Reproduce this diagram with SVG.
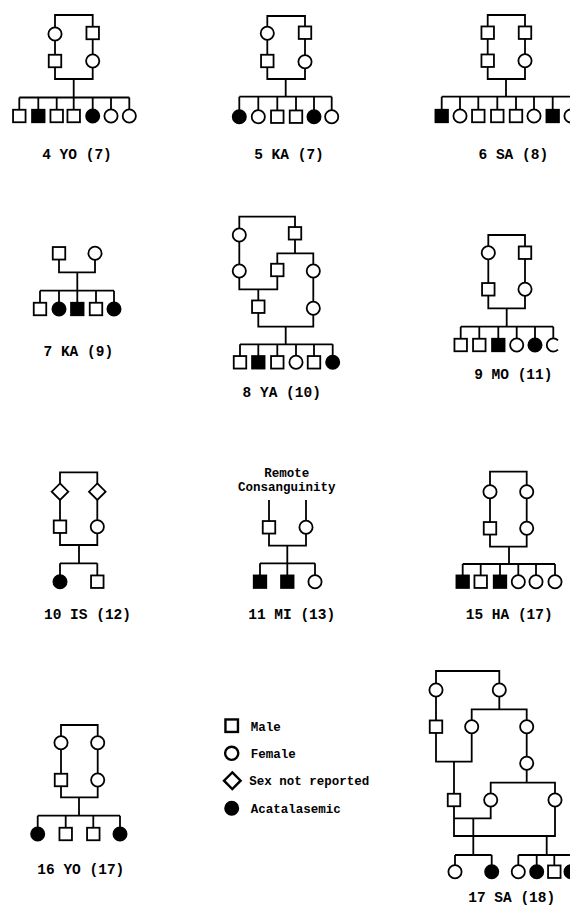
<svg xmlns="http://www.w3.org/2000/svg" xmlns:xlink="http://www.w3.org/1999/xlink" width="570" height="910" viewBox="0 0 570 910">
<style>
.l{fill:none;stroke:#000;stroke-width:1.8}
.o{fill:#fff;stroke:#000;stroke-width:1.8}
.k{fill:#000;stroke:#000;stroke-width:1.8}
.lg{stroke-width:2.4}
.t{font-family:"Liberation Mono","DejaVu Sans Mono",monospace;font-weight:bold;font-size:14.5px;text-anchor:middle;fill:#000}
.s{font-family:"Liberation Mono","DejaVu Sans Mono",monospace;font-weight:bold;font-size:12.5px;fill:#000}
</style>
<defs>
<rect id="S" x="-6.25" y="-6.25" width="12.5" height="12.5"/>
<circle id="C" r="6.6"/>
<path id="D" d="M0,-8.3 L8.3,0 L0,8.3 L-8.3,0Z"/>
</defs>
<rect width="570" height="910" fill="#fff"/>
<g id="connectors" class="l">
<!-- 4 YO -->
<path d="M55,15 H92.7 V79 H55 Z M73.7,79 V97.5 M19.3,97.5 H129.3 M19.3,97.5 V116 M38.3,97.5 V116 M56.7,97.5 V116 M73.7,97.5 V116 M92.7,97.5 V116 M111,97.5 V116 M129.3,97.5 V116"/>
<!-- 5 KA -->
<path d="M267.3,16 H305 V79 H267.3 Z M285.7,79 V96.7 M239.3,96.7 H331.7 M239.3,96.7 V116.7 M258.3,96.7 V116.7 M277.3,96.7 V116.7 M296,96.7 V116.7 M314,96.7 V116.7 M331.7,96.7 V116.7"/>
<!-- 6 SA -->
<path d="M487.7,15 H525 V79 H487.7 Z M506,79 V96.7 M441.7,96.7 H571 M441.7,96.7 V116 M460,96.7 V116 M478.3,96.7 V116 M497.3,96.7 V116 M516,96.7 V116 M534,96.7 V116 M552.7,96.7 V116 M571,96.7 V116"/>
<!-- 7 KA -->
<path d="M59,253.3 V272.3 H95 V253.3 M77.3,272.3 V290.7 M40,290.7 H114 M40,290.7 V309 M59,290.7 V309 M77.3,290.7 V309 M96,290.7 V309 M114,290.7 V309"/>
<!-- 8 YA -->
<path d="M239.3,271 V216.7 H295 V253.3 M277.3,270 V253.3 H313.3 V308.3 M239.3,271 V289.3 H277.3 V270 M258.3,289.3 V306.7 M258.3,306.7 V326.7 H313.3 V308.3 M285.7,326.7 V344.3 M240,344.3 H332.7 M240,344.3 V362.3 M258.3,344.3 V362.3 M277.3,344.3 V362.3 M296,344.3 V362.3 M314,344.3 V362.3 M332.7,344.3 V362.3"/>
<!-- 9 MO -->
<path d="M488.3,235 H525 V308.3 H488.3 Z M506.7,308.3 V326.7 M460.7,326.7 H553.3 M460.7,326.7 V345 M479.3,326.7 V345 M498.3,326.7 V345 M516.7,326.7 V345 M535,326.7 V345 M553.3,326.7 V338.4"/>
<!-- 10 IS -->
<path d="M60,472.3 H97.3 V545 H60 Z M79,545 V563.3 M60,563.3 H97.3 M60,563.3 V581.7 M97.3,563.3 V581.7"/>
<!-- 11 MI -->
<path d="M269,500 V545.7 H306 V500 M287.3,545.7 V563.3 M260,563.3 H315 M260,563.3 V581.7 M287.3,563.3 V581.7 M315,563.3 V581.7"/>
<!-- 15 HA -->
<path d="M490,471.7 H526.7 V546.7 H490 Z M509,546.7 V564 M462.7,564 H555 M462.7,564 V581.7 M480.7,564 V581.7 M500,564 V581.7 M518.3,564 V581.7 M536,564 V581.7 M555,564 V581.7"/>
<!-- 16 YO -->
<path d="M61,725 H97.7 V797.3 H61 Z M79,797.3 V815.7 M37.7,815.7 H120 M37.7,815.7 V834 M65.7,815.7 V834 M93.3,815.7 V834 M120,815.7 V834"/>
<!-- 17 SA -->
<path d="M436,726.7 V671 H499.3 V709.3 M471.7,726.7 V709.3 H526.7 V782.7 M436,726.7 V761.7 H471.7 V726.7 M454,761.7 V800 M490.7,800 V782.7 H555 V800 M454,800 V836 H555 V800 M454,818.3 H490.7 V800 M473.3,818.3 V855 M455,855 H491.7 M455,855 V871.7 M491.7,855 V871.7 M546.7,836 V855 M518.3,855 H571 M518.3,855 V871.7 M536.7,855 V871.7 M554.3,855 V871.7 M571,855 V871.7"/>
</g>
<g id="p4">
<use href="#C" x="55" y="34" class="o"/><use href="#S" x="55" y="61" class="o"/>
<use href="#S" x="92.7" y="33" class="o"/><use href="#C" x="92.7" y="61" class="o"/>
<use href="#S" x="19.3" y="116" class="o"/><use href="#S" x="38.3" y="116" class="k"/><use href="#S" x="56.7" y="116" class="o"/><use href="#S" x="73.7" y="116" class="o"/><use href="#C" x="92.7" y="116" class="k"/><use href="#C" x="111" y="116" class="o"/><use href="#C" x="129.3" y="116" class="o"/>
<text class="t" x="77" y="159">4 YO (7)</text>
</g>
<g id="p5">
<use href="#C" x="267.3" y="33.3" class="o"/><use href="#S" x="267.3" y="61" class="o"/>
<use href="#S" x="305" y="32.7" class="o"/><use href="#C" x="305" y="61.7" class="o"/>
<use href="#C" x="239.3" y="116.7" class="k"/><use href="#C" x="258.3" y="116.7" class="o"/><use href="#S" x="277.3" y="116.7" class="o"/><use href="#S" x="296" y="116.7" class="o"/><use href="#C" x="314" y="116.7" class="k"/><use href="#C" x="331.7" y="116.7" class="o"/>
<text class="t" x="289" y="159">5 KA (7)</text>
</g>
<g id="p6">
<use href="#S" x="487.7" y="32.7" class="o"/><use href="#S" x="487.7" y="60.7" class="o"/>
<use href="#S" x="525" y="32.7" class="o"/><use href="#C" x="525" y="60.7" class="o"/>
<use href="#S" x="441.7" y="116" class="k"/><use href="#C" x="460" y="116" class="o"/><use href="#S" x="478.3" y="116" class="o"/><use href="#S" x="497.3" y="116" class="o"/><use href="#S" x="516" y="116" class="o"/><use href="#C" x="534" y="116" class="o"/><use href="#S" x="552.7" y="116" class="k"/><use href="#C" x="571" y="116" class="o"/>
<text class="t" x="513.3" y="158.5">6 SA (8)</text>
</g>
<g id="p7">
<use href="#S" x="59" y="253.3" class="o"/><use href="#C" x="95" y="253.3" class="o"/>
<use href="#S" x="40" y="309" class="o"/><use href="#C" x="59" y="309" class="k"/><use href="#S" x="77.3" y="309" class="k"/><use href="#S" x="96" y="309" class="o"/><use href="#C" x="114" y="309" class="k"/>
<text class="t" x="78.3" y="356">7 KA (9)</text>
</g>
<g id="p8">
<use href="#C" x="239.3" y="235" class="o"/><use href="#C" x="239.3" y="271" class="o"/>
<use href="#S" x="295" y="233.3" class="o"/><use href="#S" x="277.3" y="270" class="o"/>
<use href="#C" x="313.3" y="271" class="o"/><use href="#C" x="313.3" y="308.3" class="o"/>
<use href="#S" x="258.3" y="306.7" class="o"/>
<use href="#S" x="240" y="362.3" class="o"/><use href="#S" x="258.3" y="362.3" class="k"/><use href="#S" x="277.3" y="362.3" class="o"/><use href="#C" x="296" y="362.3" class="o"/><use href="#S" x="314" y="362.3" class="o"/><use href="#C" x="332.7" y="362.3" class="k"/>
<text class="t" x="281.7" y="397.3">8 YA (10)</text>
</g>
<g id="p9">
<use href="#C" x="488.3" y="252.7" class="o"/><use href="#S" x="488.3" y="289.3" class="o"/>
<use href="#S" x="525" y="252.7" class="o"/><use href="#C" x="525" y="289.3" class="o"/>
<use href="#S" x="460.7" y="345" class="o"/><use href="#S" x="479.3" y="345" class="o"/><use href="#S" x="498.3" y="345" class="k"/><use href="#C" x="516.7" y="345" class="o"/><use href="#C" x="535" y="345" class="k"/>
<path class="l" d="M558,340.3 A6.6,6.6 0 1 0 558,349.7"/>
<text class="t" x="513.3" y="379">9 MO (11)</text>
</g>
<g id="p10">
<use href="#D" x="60" y="491.7" class="o"/><use href="#D" x="97.3" y="491.7" class="o"/>
<use href="#S" x="60" y="526.7" class="o"/><use href="#C" x="97.3" y="526.7" class="o"/>
<use href="#C" x="60" y="581.7" class="k"/><use href="#S" x="97.3" y="581.7" class="o"/>
<text class="t" x="87.5" y="619">10 IS (12)</text>
</g>
<g id="p11">
<text class="s" x="286.7" y="476.7" text-anchor="middle">Remote</text>
<text class="s" x="286.7" y="490.7" text-anchor="middle">Consanguinity</text>
<use href="#S" x="269" y="527.3" class="o"/><use href="#C" x="306" y="527.3" class="o"/>
<use href="#S" x="260" y="581.7" class="k"/><use href="#S" x="287.3" y="581.7" class="k"/><use href="#C" x="315" y="581.7" class="o"/>
<text class="t" x="291.7" y="619">11 MI (13)</text>
</g>
<g id="p15">
<use href="#C" x="490" y="491.7" class="o"/><use href="#S" x="490" y="528.3" class="o"/>
<use href="#C" x="526.7" y="491.7" class="o"/><use href="#C" x="526.7" y="528.3" class="o"/>
<use href="#S" x="462.7" y="581.7" class="k"/><use href="#S" x="480.7" y="581.7" class="o"/><use href="#S" x="500" y="581.7" class="k"/><use href="#C" x="518.3" y="581.7" class="o"/><use href="#C" x="536" y="581.7" class="o"/><use href="#C" x="555" y="581.7" class="o"/>
<text class="t" x="509.2" y="619">15 HA (17)</text>
</g>
<g id="p16">
<use href="#C" x="61" y="742.7" class="o"/><use href="#S" x="61" y="780" class="o"/>
<use href="#C" x="97.7" y="742.7" class="o"/><use href="#C" x="97.7" y="780" class="o"/>
<use href="#C" x="37.7" y="834" class="k"/><use href="#S" x="65.7" y="834" class="o"/><use href="#S" x="93.3" y="834" class="o"/><use href="#C" x="120" y="834" class="k"/>
<text class="t" x="80.8" y="874">16 YO (17)</text>
</g>
<g id="legend">
<use href="#S" x="231.7" y="725.7" class="o lg"/><text class="s" x="250.7" y="730.7">Male</text>
<use href="#C" x="231.7" y="753.3" class="o lg"/><text class="s" x="250.7" y="758.3">Female</text>
<use href="#D" x="232.3" y="780.7" class="o lg"/><text class="s" x="249.3" y="785">Sex not reported</text>
<use href="#C" x="231.7" y="808.3" class="k"/><text class="s" x="250.7" y="812.7">Acatalasemic</text>
</g>
<g id="p17">
<use href="#C" x="436" y="690" class="o"/><use href="#S" x="436" y="726.7" class="o"/>
<use href="#C" x="499.3" y="690" class="o"/>
<use href="#C" x="471.7" y="726.7" class="o"/><use href="#C" x="526.7" y="726.7" class="o"/><use href="#C" x="526.7" y="763.3" class="o"/>
<use href="#S" x="454" y="800" class="o"/><use href="#C" x="490.7" y="800" class="o"/><use href="#C" x="555" y="800" class="o"/>
<use href="#C" x="455" y="871.7" class="o"/><use href="#C" x="491.7" y="871.7" class="k"/>
<use href="#C" x="518.3" y="871.7" class="o"/><use href="#C" x="536.7" y="871.7" class="k"/><use href="#S" x="554.3" y="871.7" class="o"/><use href="#C" x="571" y="871.7" class="k"/>
<text class="t" x="511.7" y="901.5">17 SA (18)</text>
</g>
</svg>
